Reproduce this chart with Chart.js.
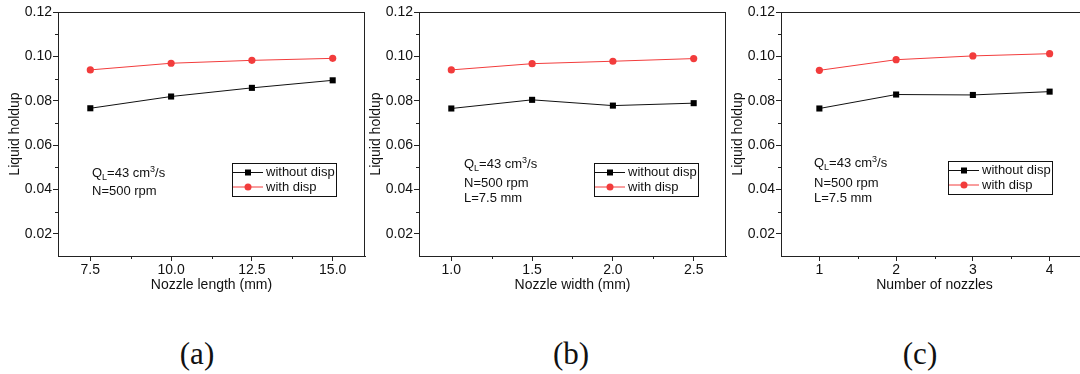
<!DOCTYPE html>
<html>
<head>
<meta charset="utf-8">
<script src="https://cdn.jsdelivr.net/npm/chart.js@4"></script>
<style>
  body { margin: 0; width: 1080px; height: 374px; overflow: hidden; background: #fff; position: relative; }
  canvas { position: absolute; top: 0; }
  .cap { position: absolute; top: 336px; line-height: 1; font: 31px "Liberation Serif", "Times New Roman", serif; transform: translateX(-50%); color: #111; }
</style>
</head>
<body>
<canvas id="ca" width="370" height="300" style="left:0px"></canvas>
<canvas id="cb" width="370" height="300" style="left:361px"></canvas>
<canvas id="cc" width="370" height="300" style="left:723px"></canvas>
<div class="cap" style="left:197px">(a)</div>
<div class="cap" style="left:571px">(b)</div>
<div class="cap" style="left:920px">(c)</div>
<script>
// data
const lengthX = [7.5, 10.0, 12.5, 15.0];
const lengthWithout = [0.0766, 0.0819, 0.0858, 0.0892];
const lengthWith = [0.0939, 0.0969, 0.0982, 0.0991];

const widthX = [1.0, 1.5, 2.0, 2.5];
const widthWithout = [0.0765, 0.0804, 0.0778, 0.0789];
const widthWith = [0.0939, 0.0967, 0.0978, 0.0990];

const nozzleX = [1, 2, 3, 4];
const nozzleWithout = [0.0765, 0.0828, 0.0826, 0.0841];
const nozzleWith = [0.0937, 0.0985, 0.1002, 0.1012];

const yTicks = [0.02, 0.04, 0.06, 0.08, 0.10, 0.12];
const seriesNames = ['without disp', 'with disp'];

const FONT = '"Liberation Sans", Arial, sans-serif';
const RED = '#f23c3c';
Chart.defaults.font.family = FONT;
Chart.defaults.color = '#111';

// draw Q_L=43 cm^3/s and the other notes
function drawNotes(ctx, x, ys, extra) {
  ctx.fillStyle = '#111';
  ctx.textBaseline = 'alphabetic';
  ctx.textAlign = 'left';
  let cx = x;
  const big = '13px ' + FONT, small = '9px ' + FONT;
  const put = (t, f, dy) => { ctx.font = f; ctx.fillText(t, cx, ys[0] + dy); cx += ctx.measureText(t).width; };
  put('Q', big, 0); put('L', small, 3); put('=43 cm', big, 0); put('3', small, -5); put('/s', big, 0);
  ctx.font = big;
  ctx.fillText('N=500 rpm', x, ys[1]);
  if (extra) ctx.fillText(extra, x, ys[2]);
}

function panelPlugin(p) {
  return {
    id: 'panelDecor',
    afterDraw(chart) {
      const { ctx, chartArea: a, scales: { x, y } } = chart;
      ctx.save();
      ctx.strokeStyle = '#222';
      ctx.lineWidth = 1;
      // top / right frame
      ctx.beginPath();
      ctx.moveTo(a.left, a.top + 0.5); ctx.lineTo(a.right, a.top + 0.5);
      ctx.moveTo(a.right - 0.5, a.top); ctx.lineTo(a.right - 0.5, a.bottom);
      // minor ticks
      const step = p.x[1] - p.x[0];
      for (let k = -1; k < p.x.length; k++) {
        const v = p.x[0] + (k + 0.5) * step;
        if (v <= p.xMin || v >= p.xMax) continue;
        const px = Math.round(x.getPixelForValue(v)) + 0.5;
        ctx.moveTo(px, a.bottom); ctx.lineTo(px, a.bottom + 3);
      }
      for (let v = 0.03; v < 0.12; v += 0.02) {
        const py = Math.round(y.getPixelForValue(v)) + 0.5;
        ctx.moveTo(a.left, py); ctx.lineTo(a.left - 3, py);
      }
      ctx.stroke();

      drawNotes(ctx, a.left + p.noteX, p.noteY, p.extra);

      // legend box
      const lx = a.left + p.legX, ly = p.legY, lw = 104, lh = 33;
      ctx.strokeStyle = '#111';
      ctx.strokeRect(Math.round(lx) + 0.5, Math.round(ly) + 0.5, lw, lh);
      const rows = [ly + 9.5, ly + 24];
      chart.data.datasets.forEach((ds, i) => {
        const ry = rows[i];
        ctx.strokeStyle = ds.borderColor;
        ctx.beginPath();
        ctx.moveTo(lx + 1, ry); ctx.lineTo(lx + 31, ry);
        ctx.stroke();
        ctx.fillStyle = ds.backgroundColor;
        if (i === 0) {
          ctx.fillRect(lx + 16 - 3, ry - 3, 6, 6);
        } else {
          ctx.beginPath(); ctx.arc(lx + 16, ry, 3.5, 0, Math.PI * 2); ctx.fill();
        }
        ctx.fillStyle = '#111';
        ctx.font = '13px ' + FONT;
        ctx.textBaseline = 'middle';
        ctx.fillText(ds.label, lx + 34, ry);
      });
      ctx.restore();
    }
  };
}

function makeChart(id, p) {
  new Chart(document.getElementById(id), {
    type: 'line',
    data: {
      datasets: [
        {
          label: seriesNames[0],
          data: p.x.map((v, i) => ({ x: v, y: p.without[i] })),
          borderColor: '#111', backgroundColor: '#000', borderWidth: 1,
          pointStyle: 'rect', pointRadius: 4.3, pointBorderWidth: 0
        },
        {
          label: seriesNames[1],
          data: p.x.map((v, i) => ({ x: v, y: p.withD[i] })),
          borderColor: RED, backgroundColor: RED, borderWidth: 1,
          pointStyle: 'circle', pointRadius: 3.6, pointBorderWidth: 0
        }
      ]
    },
    options: {
      responsive: false,
      animation: false,
      events: [],
      layout: { padding: { top: 12, right: 5, left: 0, bottom: 0 } },
      plugins: { legend: { display: false }, tooltip: { enabled: false } },
      scales: {
        x: {
          type: 'linear', min: p.xMin, max: p.xMax,
          afterBuildTicks: s => { s.ticks = p.x.map(v => ({ value: v })); },
          afterFit: s => { s.height = 44; },
          grid: { drawOnChartArea: false, drawTicks: true, tickLength: 5, color: '#222' },
          border: { color: '#222', width: 1 },
          ticks: { font: { size: 14 }, padding: 1, maxRotation: 0, callback: v => p.fmt(v) },
          title: { display: true, text: p.title, font: { size: 14 }, padding: { top: 0, bottom: 6.5 } }
        },
        y: {
          min: 0.01, max: 0.12,
          afterBuildTicks: s => { s.ticks = yTicks.map(v => ({ value: v })); },
          afterFit: s => { s.width = 58; },
          grid: { drawOnChartArea: false, drawTicks: true, tickLength: 5, color: '#222' },
          border: { color: '#222', width: 1 },
          ticks: { font: { size: 14 }, padding: 1, callback: v => v.toFixed(2) },
          title: { display: true, text: 'Liquid holdup', font: { size: 14 }, padding: { top: 6.5, bottom: 0 } }
        }
      }
    },
    plugins: [panelPlugin(p)]
  });
}

makeChart('ca', {
  x: lengthX, without: lengthWithout, withD: lengthWith, xMin: 6.5, xMax: 16.0,
  fmt: v => v.toFixed(1), title: 'Nozzle length (mm)',
  noteX: 34, noteY: [176.5, 195], extra: null, legX: 174, legY: 163
});
makeChart('cb', {
  x: widthX, without: widthWithout, withD: widthWith, xMin: 0.8, xMax: 2.7,
  fmt: v => v.toFixed(1), title: 'Nozzle width (mm)',
  noteX: 45, noteY: [168, 187, 201.5], extra: 'L=7.5 mm', legX: 175, legY: 163
});
makeChart('cc', {
  x: nozzleX, without: nozzleWithout, withD: nozzleWith, xMin: 0.5, xMax: 4.5,
  fmt: v => String(v), title: 'Number of nozzles',
  noteX: 33, noteY: [167, 187, 201.5], extra: 'L=7.5 mm', legX: 167, legY: 161
});
</script>
</body>
</html>
